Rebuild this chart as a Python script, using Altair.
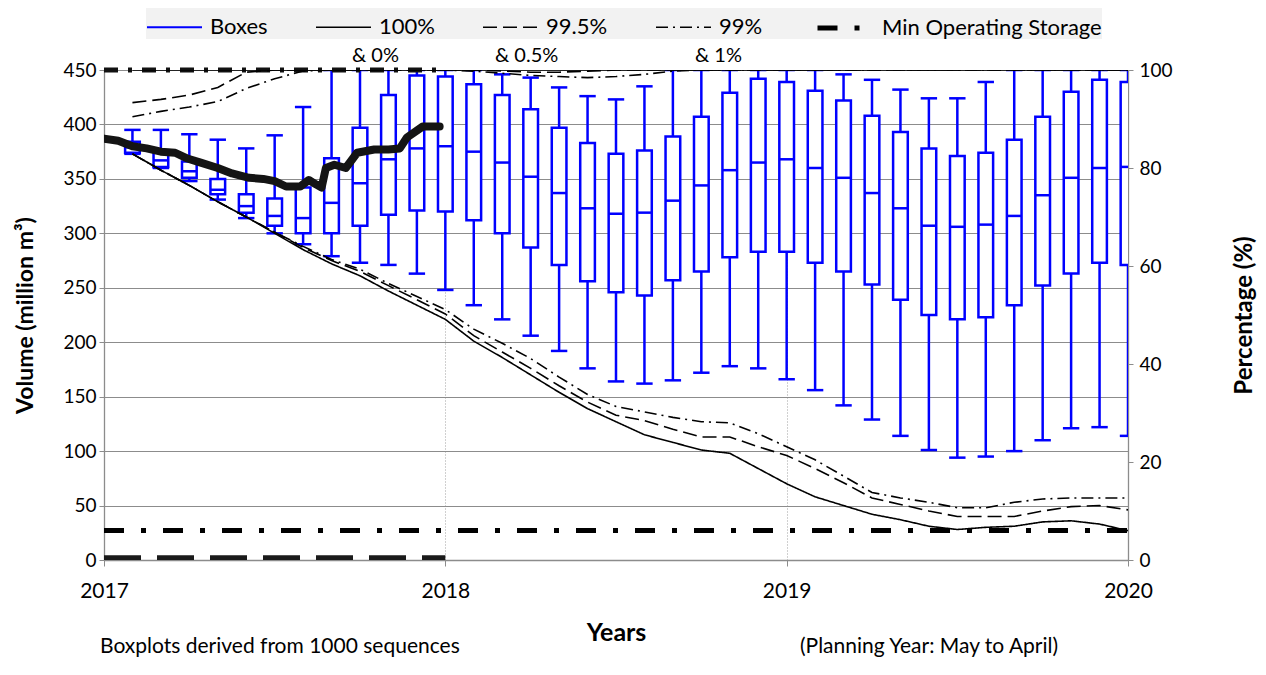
import altair as alt
import pandas as pd

FONT = "Lato"

# ---------------- data ----------------
months = list(range(1, 37))  # month index after Jan 2017

box_lo = [373, 360, 348, 331, 314, 300, 290, 279, 273, 271, 263, 248, 234, 221, 206, 192, 176, 164,
          162, 165, 172, 178, 176, 166, 156, 142, 129, 114, 101, 94, 95, 100, 110, 121, 122, 114]
box_q1 = [374, 361, 351, 336, 319, 307, 300, 300, 307, 317, 321, 320, 312, 300, 287, 271, 256, 246,
          243, 257, 265, 278, 283, 283, 273, 265, 253, 239, 225, 221, 223, 234, 252, 263, 273, 271]
box_med = [379, 367, 357, 340, 325, 316, 314, 328, 346, 368, 378, 380, 375, 365, 352, 337, 323, 318,
           319, 330, 344, 358, 365, 368, 360, 351, 337, 323, 307, 306, 308, 316, 335, 351, 360, 361]
box_q3 = [384, 376, 366, 350, 336, 332, 342, 369, 397, 427, 445, 444, 437, 427, 414, 397, 383, 373,
          376, 389, 407, 429, 442, 439, 431, 422, 408, 393, 378, 371, 374, 386, 407, 430, 441, 439]
box_hi = [395, 395, 391, 386, 378, 390, 416, 450, 450, 450, 450, 450, 450, 446, 443, 434, 426, 423,
          435, 450, 450, 450, 450, 450, 450, 446, 441, 432, 424, 424, 439, 450, 450, 450, 450, 450]

# lower envelope lines (100%, 99.5%, 99% exceedance)
p100 = [373, 358, 344, 329, 315, 300, 285, 272, 261, 247, 234, 221, 201, 186, 170, 154, 139, 127,
        115, 108, 101, 98, 84, 70, 58, 50, 42, 37, 31, 28, 30, 31, 35, 36, 33, 27]
p995 = [373, 358, 344, 329, 315, 301, 287, 275, 265, 252, 239, 226, 206, 191, 176, 160, 145, 133,
        128, 120, 113, 113, 104, 96, 84, 71, 57, 51, 45, 40, 40, 40, 45, 49, 50, 46]
p99 = [373, 358, 344, 329, 315, 301, 288, 276, 267, 254, 242, 230, 212, 199, 185, 168, 152, 141,
       136, 131, 127, 126, 116, 104, 92, 77, 62, 57, 53, 48, 48, 53, 56, 57, 57, 57]
# upper envelope lines (0%, 0.5%, 1%)
p0 = [450] * 36
p05 = [420, 423, 427, 434, 448, 450, 450, 450, 450, 450, 450, 450, 450, 449, 448, 448, 449, 450,
       450, 450, 450, 450, 450, 450, 450, 450, 450, 450, 450, 450, 450, 450, 450, 450, 450, 450]
p1 = [407, 412, 416, 421, 433, 442, 449, 450, 450, 450, 450, 450, 449, 447, 445, 444, 443, 444,
      446, 449, 450, 450, 450, 450, 450, 450, 450, 450, 450, 450, 450, 450, 450, 450, 450, 450]

# historical storage trace (thick black line)
hist_m = [0, 0.5, 1, 1.5, 2, 2.5, 2.9, 3.4, 4, 4.5, 5.1, 5.6, 6.0, 6.4, 6.9, 7.2, 7.45, 7.65, 7.8,
          8.1, 8.5, 8.9, 9.5, 10.0, 10.4, 10.65, 11.2, 11.8]
hist_v = [387, 385, 380, 378, 375, 374, 369, 365, 360, 355, 351, 350, 348, 343, 343, 349, 345, 342,
          360, 363, 360, 374, 377, 377, 378, 388, 398, 398]

mos_m = [0, 36]
mos_v = [27, 27]
full_m = [0, 12]
full_v = [450, 450]
dead_m = [0, 12]
dead_v = [2, 2]

series_dom = ["Boxes", "100%", "99.5%", "99%", "Min Operating Storage"]
series_sub = ["& 0%", "& 0.5%", "& 1%"]
y_ticks = list(range(0, 451, 50))
pct_ticks = [0, 20, 40, 60, 80, 100]
year_ticks = [2017, 2018, 2019, 2020]
notes = ["Boxplots derived from 1000 sequences", "(Planning Year: May to April)"]


def yr(m):
    return 2017 + m / 12.0


# ---------------- tables ----------------
df_box = pd.DataFrame({"yr": [yr(m) for m in months], "lo": box_lo, "q1": box_q1,
                       "med": box_med, "q3": box_q3, "hi": box_hi})

rows = []
for name, part, vals in [("100%", "low", p100), ("99.5%", "low", p995), ("99%", "low", p99),
                         ("100%", "up", p0), ("99.5%", "up", p05), ("99%", "up", p1)]:
    for m, v in zip(months, vals):
        rows.append({"series": name, "part": part, "yr": yr(m), "v": v})
for m, v in zip(mos_m, mos_v):
    rows.append({"series": "Min Operating Storage", "part": "mos", "yr": yr(m), "v": v})
df_lines = pd.DataFrame(rows)

df_hist = pd.DataFrame({"yr": [yr(m) for m in hist_m], "v": hist_v})
df_full = pd.DataFrame({"yr": [yr(m) for m in full_m], "v": full_v})
df_dead = pd.DataFrame({"yr": [yr(m) for m in dead_m], "v": dead_v})
df_pct = pd.DataFrame({"pct": pct_ticks})

# ---------------- scales / axes ----------------
GRID = "#8c8c8c"
BLUE = "#0000ff"

xscale = alt.Scale(domain=[2017, 2020], nice=False, zero=False)
yscale = alt.Scale(domain=[0, 450], nice=False)

xaxis = alt.Axis(values=year_ticks, format="d", title="Years", grid=True,
                 gridColor="#a0a0a0", gridDash=[1, 2], gridWidth=1,
                 domainColor=GRID, tickColor=GRID, tickSize=6, labelPadding=14,
                 labelFontSize=21, labelFlush=False,
                 titleY=72, titleBaseline="middle")
yaxis = alt.Axis(values=y_ticks, title="Volume (million m³)", grid=True, gridColor=GRID,
                 gridWidth=1.2, domainColor=GRID, tickColor=GRID, tickSize=5,
                 labelPadding=3, titleX=-79, titleY=245, titleAngle=270, titleFontSize=23,
                 titleBaseline="middle", titleAlign="center")

X = alt.X("yr:Q", scale=xscale, axis=xaxis)

base_box = alt.Chart(df_box).transform_calculate(
    xl="datum.yr - 0.0215", xr="datum.yr + 0.0215",
    cl="datum.yr - 0.024", cr="datum.yr + 0.024")

whisk = base_box.mark_rule(color=BLUE, strokeWidth=2.5, clip=True).encode(
    x=X, y=alt.Y("lo:Q", scale=yscale, axis=yaxis), y2="hi:Q")
cap_lo = base_box.mark_rule(color=BLUE, strokeWidth=2.5, clip=True).encode(
    x="cl:Q", x2="cr:Q", y="lo:Q")
cap_hi = base_box.mark_rule(color=BLUE, strokeWidth=2.5, clip=True).encode(
    x="cl:Q", x2="cr:Q", y="hi:Q")
boxes = base_box.mark_rect(fill="white", stroke=BLUE, strokeWidth=2.5, clip=True).encode(
    x="xl:Q", x2="xr:Q", y="q1:Q", y2="q3:Q")
medians = base_box.mark_rule(color=BLUE, strokeWidth=2.5, clip=True).encode(
    x="xl:Q", x2="xr:Q", y="med:Q")

leg = alt.Legend(title=None, orient="none", legendX=42, legendY=-72, direction="horizontal",
                 symbolType="stroke", symbolSize=3025, labelFontSize=22, labelFont=FONT,
                 labelColor="black", labelOffset=7, columnPadding=44, fillColor="#f2f2f2",
                 padding=0, labelLimit=400)

lines = alt.Chart(df_lines).mark_line(clip=True).encode(
    x="yr:Q", y="v:Q",
    stroke=alt.Stroke("series:N", legend=leg, sort=series_dom,
                      scale=alt.Scale(domain=series_dom,
                                      range=[BLUE, "black", "black", "black", "black"])),
    strokeDash=alt.StrokeDash("series:N", legend=leg, sort=series_dom,
                              scale=alt.Scale(domain=series_dom,
                                              range=[[1, 0], [1, 0], [14, 6], [12, 5, 2, 5],
                                                     [20, 17, 5, 17]])),
    strokeWidth=alt.StrokeWidth("series:N", legend=leg, sort=series_dom,
                                scale=alt.Scale(type="ordinal", domain=series_dom,
                                                range=[2, 1.6, 1.6, 1.6, 5])),
    detail="part:N",
)

full_line = alt.Chart(df_full).mark_line(color="#111111", strokeWidth=5,
                                         strokeDash=[14, 10, 4, 10], clip=False).encode(
    x="yr:Q", y="v:Q")
dead_line = alt.Chart(df_dead).mark_line(color="#1a1a1a", strokeWidth=5,
                                         strokeDash=[37, 16], clip=True).encode(
    x="yr:Q", y="v:Q")
hist_line = alt.Chart(df_hist).mark_line(color="#141414", strokeWidth=8, strokeCap="round",
                                         strokeJoin="round", clip=True).encode(
    x="yr:Q", y="v:Q")

# second-line legend texts and footnotes
sub_x = [248, 391, 591]
subs = [alt.Chart(pd.DataFrame({"t": [t]})).mark_text(
            font=FONT, fontSize=20, align="left", baseline="middle", color="black").encode(
            x=alt.value(xp), y=alt.value(-14), text="t:N")
        for t, xp in zip(series_sub, sub_x)]
note_l = alt.Chart(pd.DataFrame({"t": [notes[0]]})).mark_text(
    font=FONT, fontSize=21, align="left", baseline="middle", color="black").encode(
    x=alt.value(-4), y=alt.value(577), text="t:N")
note_r = alt.Chart(pd.DataFrame({"t": [notes[1]]})).mark_text(
    font=FONT, fontSize=21, align="left", baseline="middle", color="black").encode(
    x=alt.value(696), y=alt.value(577), text="t:N")

left = alt.layer(whisk, boxes, medians, cap_lo, cap_hi, dead_line, full_line, lines,
                 hist_line, *subs, note_l, note_r)

right = alt.Chart(df_pct).mark_point(opacity=0).encode(
    y=alt.Y("pct:Q", scale=alt.Scale(domain=[0, 100], nice=False),
            axis=alt.Axis(orient="right", values=pct_ticks, title="Percentage (%)",
                          grid=False, domainColor=GRID, tickColor=GRID, tickSize=5,
                          labelPadding=6, titleX=116, titleY=245, titleAngle=270,
                          titleFontSize=24, titleBaseline="middle", titleAlign="center")))

chart = alt.layer(left, right).resolve_scale(y="independent").properties(
    width=1024, height=490,
    padding={"left": 96, "top": 62, "right": 130, "bottom": 107},
    autosize=alt.AutoSizeParams(type="none"),
).configure_view(stroke=None).configure_axis(
    labelFont=FONT, labelFontSize=19, labelColor="black",
    titleFont=FONT, titleFontSize=25, titleFontWeight="bold", titleColor="black",
    domainWidth=1.3,
)

chart.save("out.html", embed_options={"renderer": "svg", "actions": False})
